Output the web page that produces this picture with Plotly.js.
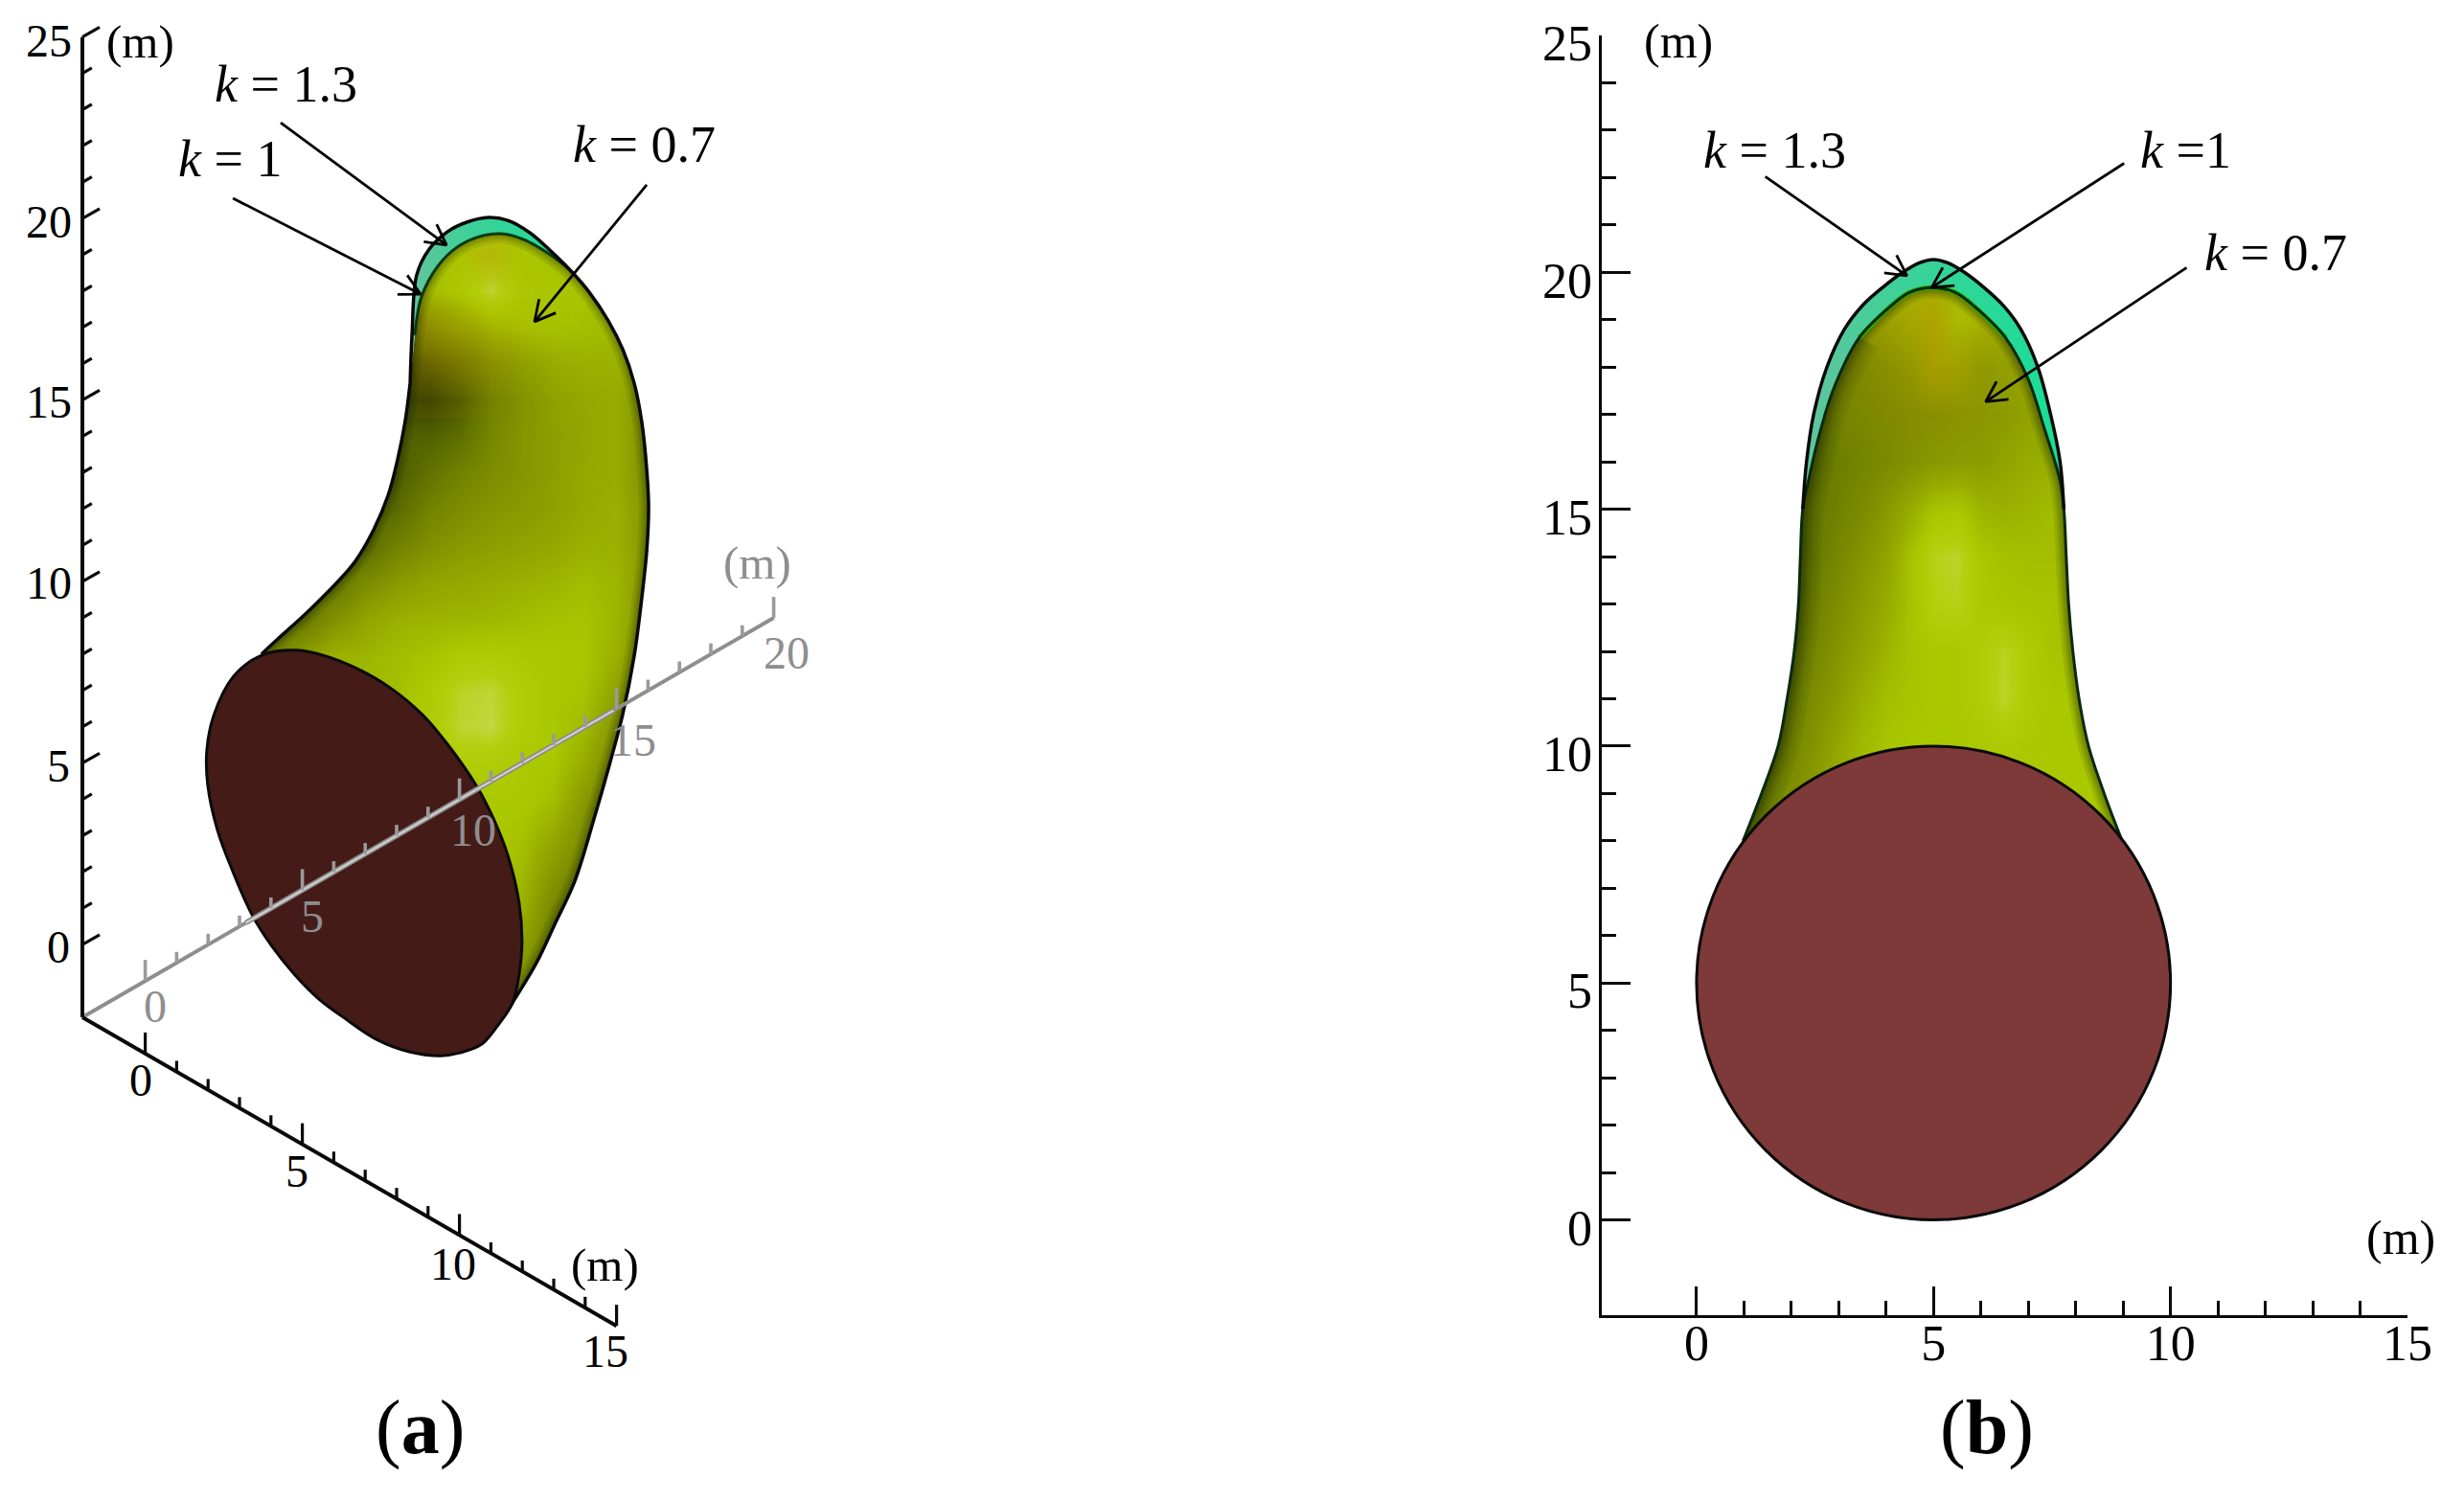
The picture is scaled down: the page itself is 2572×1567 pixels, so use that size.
<!DOCTYPE html>
<html>
<head>
<meta charset="utf-8">
<script src="https://cdn.plot.ly/plotly-3.0.1.min.js"></script>
<style>html,body{margin:0;padding:0;background:#fff}#chart{width:2572px;height:1567px}</style>
</head>
<body>
<div id="chart"></div>
<script>
// ---------- panel (b) : front view, metres ----------
const bLeftX  = [0.98,1.37,1.72,1.91,2.06,2.15,2.19,2.24];
const bLeftY  = [8,9,10,11,12,13,14,15];
const bInnerTopX = [2.36,2.56,2.89,3.43,4.10,4.50,4.98,5.45,5.85,6.52,7.00,7.33,7.67];
const bInnerTopY = [15.6,16.46,17.54,18.62,19.29,19.58,19.68,19.58,19.29,18.62,17.74,16.73,15.6];
const bRightX = [7.75,7.80,7.85,7.94,8.07,8.27,8.60,8.98];
const bRightY = [15,14,13,12,11,10,9,8];
const bOuterTopX = [2.24,2.32,2.47,2.75,3.12,3.50,3.95,4.35,4.70,5.00,5.30,5.65,6.04,6.47,6.84,7.20,7.47,7.67,7.75];
const bOuterTopY = [15,16,17,18,18.8,19.3,19.7,20,20.2,20.27,20.2,20,19.7,19.3,18.8,18,17,16,15];
const bShadeX = [1,1.5,2,2.5,3,3.5,4,4.5,5,5.5,6,6.5,7,7.5,8,8.5,9];
const bShadeY = [7,8,9,10,11,12,13,14,15,16,17,18,19,20];
const bShadeZ = [
[.55,.55,.6,.68,.76,.8,.82,.82,.82,.82,.82,.82,.82,.82,.82,.82,.82],
[.5,.5,.56,.66,.74,.8,.82,.82,.82,.82,.82,.82,.82,.82,.82,.82,.82],
[.45,.48,.54,.62,.72,.78,.82,.82,.82,.82,.82,.82,.82,.82,.82,.82,.82],
[.42,.46,.5,.58,.68,.76,.8,.82,.82,.82,.83,.84,.83,.82,.82,.82,.82],
[.42,.44,.47,.54,.62,.72,.78,.8,.82,.83,.86,.93,.85,.82,.82,.82,.82],
[.4,.42,.44,.5,.58,.66,.74,.8,.82,.83,.86,.92,.85,.8,.8,.8,.8],
[.38,.4,.4,.46,.54,.62,.7,.8,.89,.91,.83,.81,.8,.8,.8,.8,.8],
[.36,.36,.36,.42,.5,.58,.66,.8,.91,.93,.82,.79,.78,.78,.78,.78,.78],
[.36,.36,.36,.4,.46,.52,.6,.7,.8,.82,.74,.72,.74,.76,.76,.76,.76],
[.38,.38,.38,.4,.44,.48,.52,.56,.6,.62,.62,.66,.7,.72,.72,.72,.72],
[.42,.42,.42,.44,.48,.5,.52,.54,.56,.58,.6,.62,.66,.68,.68,.68,.68],
[.48,.48,.48,.48,.5,.52,.56,.62,.72,.7,.62,.64,.68,.68,.66,.64,.64],
[.55,.55,.55,.55,.58,.62,.68,.74,.78,.8,.78,.76,.74,.7,.66,.64,.64],
[.76,.76,.76,.76,.76,.76,.76,.76,.76,.76,.76,.76,.76,.76,.76,.76,.76]];
const bTintX = [3,3.5,4,4.5,5,5.5,6,6.5,7];
const bTintY = [16,17,18,19,20];
const bTintZ = [
[0,0,0,0,0,0,0,0,0],
[.1,.1,.2,.3,.3,.3,.2,.1,.1],
[.2,.2,.3,.4,.8,.6,.3,.2,.2],
[.3,.3,.4,.5,.9,.2,.4,.3,.3],
[.3,.3,.3,.3,.3,.3,.3,.3,.3]];

// ---------- panel (a) : oblique view, read in projected metres (U along axes, V along height) ----------
const aLeftU = [5.70,6.22,7.04,7.84,8.66,9.27,9.73,10.03,10.27,10.43];
const aLeftV = [8.00,8.42,9.06,9.74,10.53,11.43,12.38,13.36,14.41,15.47];
const aInnerTopU = [10.58,10.79,11.31,11.92,12.62,13.32,14.05,14.76,15.27,15.61];
const aInnerTopV = [16.79,17.84,18.69,19.21,19.50,19.58,19.42,19.08,18.76,18.50];
const aOuterTopU = [10.43,10.49,10.64,11.04,11.62,12.23,12.93,13.54,14.24,15.06,15.61];
const aOuterTopV = [15.47,16.79,18.45,19.16,19.64,19.90,20.03,19.95,19.61,18.98,18.50];
const aRightU = [16.13,16.74,17.20,17.56,17.80,17.96,18.02,17.96,17.80,17.56,17.20,16.80,16.28,15.67,15.06,14.45,13.78,13.45];
const aRightV = [17.97,17.18,16.39,15.47,14.41,13.09,12.04,10.85,9.53,7.95,6.36,5.04,3.46,1.75,0.61,-0.50,-1.47,-1.93];
const aEndU = [6.83,7.74,8.75,9.79,10.79,11.62,12.53,13.02,13.54,13.90,13.99,13.90,13.69,13.26,12.71,12.01,11.40,10.40,9.36,8.35,7.53,6.74,6.01,5.40,4.79,4.30,3.99,3.96,4.18,4.79,5.70,6.83];
const aEndV = [8.11,7.95,7.60,7.08,6.36,5.52,4.39,3.59,2.46,1.14,0.08,-0.81,-1.60,-2.18,-2.74,-2.98,-3.06,-2.95,-2.61,-2.03,-1.50,-0.81,-0.02,0.82,2.01,3.15,4.39,5.36,6.31,7.37,7.97,8.11];
const aShadeU = [5,6,7,8,9,10,11,12,13,14,15,16,17,18];
const aShadeV = [-2,1,4,5,6,7,8,9,10,11,12,13,14,15,16,17,18,19,20];
const aShadeZ = [
[.8,.8,.8,.8,.8,.8,.8,.78,.55,.45,.45,.45,.45,.45],
[.82,.82,.82,.82,.82,.82,.82,.82,.82,.72,.5,.4,.4,.4],
[.82,.82,.82,.82,.82,.82,.82,.83,.83,.83,.78,.6,.45,.4],
[.82,.82,.82,.82,.82,.82,.84,.87,.86,.83,.82,.7,.5,.4],
[.82,.82,.82,.82,.82,.82,.85,.93,.95,.86,.82,.76,.58,.45],
[.75,.75,.75,.75,.76,.78,.84,.92,.94,.86,.82,.8,.66,.5],
[.45,.45,.62,.72,.74,.77,.8,.84,.85,.83,.82,.81,.72,.55],
[.4,.4,.4,.55,.66,.72,.73,.74,.75,.77,.79,.8,.74,.58],
[.38,.38,.38,.38,.52,.6,.66,.68,.7,.72,.74,.77,.74,.6],
[.32,.32,.32,.32,.32,.46,.55,.6,.63,.65,.68,.72,.72,.6],
[.32,.32,.32,.32,.32,.32,.46,.53,.58,.61,.64,.69,.72,.58],
[.25,.25,.25,.25,.25,.25,.36,.46,.53,.58,.63,.68,.7,.56],
[.28,.28,.28,.28,.28,.28,.28,.34,.5,.58,.63,.67,.7,.56],
[.2,.2,.2,.2,.2,.16,.12,.24,.46,.57,.64,.68,.7,.56],
[.24,.24,.24,.24,.24,.24,.24,.38,.56,.64,.7,.72,.72,.7],
[.55,.55,.55,.55,.55,.5,.55,.68,.76,.8,.8,.78,.76,.72],
[.8,.8,.8,.8,.8,.76,.78,.84,.94,.84,.82,.8,.78,.74],
[.84,.84,.84,.84,.84,.8,.8,.82,.88,.82,.8,.78,.76,.74],
[.84,.84,.84,.84,.84,.84,.84,.84,.84,.84,.84,.84,.84,.84]];
const aTintU = [10,11,12,13,14,15];
const aTintV = [15,16,17,18,19,20];
const aTintZ = [
[.1,.2,.2,.1,0,0],
[.3,.5,.5,.3,.1,0],
[.3,.5,.4,.2,.15,.05],
[.1,.1,.05,.05,.1,.05],
[0,0,.1,.6,.05,0],
[0,0,0,0,0,0]];

// ---------- axes ticks and labels ----------
const majorTicks15 = [0,5,10,15];
const majorTicks20 = [0,5,10,15,20];
const majorTicks25 = [0,5,10,15,20,25];
const minorTicks15 = [1,2,3,4,6,7,8,9,11,12,13,14];
const minorTicks20 = [1,2,3,4,6,7,8,9,11,12,13,14,16,17,18,19];
const minorTicks25 = [1,2,3,4,6,7,8,9,11,12,13,14,16,17,18,19,21,22,23,24];
const unitLabel = '(m)';
const kLabels = ['<i>k</i> = 1.3','<i>k</i> = 1','<i>k</i> = 0.7','<i>k</i> =1'];
const panelLabels = ['(<b>a</b>)','(<b>b</b>)'];

// arrows: [tailU,tailV,headU,headV]
const aArrows = [[6.31,22.64,11.59,19.27],[4.79,20.56,10.76,17.92],[17.96,20.93,14.39,17.16]];
const bArrows = [[1.45,22.02,4.44,19.93],[9.02,22.3,4.96,19.68],[10.34,20.1,6.1,17.27]];

// ---------- helpers ----------
const W = 2572, H = 1567;
const FONT = '"Liberation Serif","Times New Roman",serif';
const INK = '#0a0a0a', GREY = '#8e8e8e';
const AX = {xaxis:'x2',yaxis:'y2'}, BX = {xaxis:'x',yaxis:'y'};
const traces = [];
const cat = (...a)=>[].concat(...a);
const rect = (x0,x1,y0,y1)=>{
  const ex=(x1-x0)*0.002, ey=(y1-y0)*0.002;
  return {
    x:[x0,x0+ex,x1-ex,x1,x1,x1,x1,x1-ex,x0+ex,x0,x0,x0,x0],
    y:[y0,y0,y0,y0,y0+ey,y1-ey,y1,y1,y1,y1,y1-ey,y0+ey,y0]};
};
function shade(x,y,z,ax){
  traces.push(Object.assign({type:'heatmap',x,y,z,zmin:0,zmax:1,zsmooth:'best',showscale:false,hoverinfo:'skip',
    colorscale:[[0,'#1a2200'],[.15,'#3a4600'],[.35,'#5f7000'],[.55,'#7f9000'],[.7,'#96ac00'],[.82,'#aac800'],[.9,'#b4d010'],[1,'#cfdf70']]},ax));
}
function tint(x,y,z,ax){
  traces.push(Object.assign({type:'heatmap',x,y,z,zmin:0,zmax:1,zsmooth:'best',showscale:false,hoverinfo:'skip',
    colorscale:[[0,'rgba(190,130,0,0)'],[1,'rgba(190,130,0,0.5)']]},ax));
}
function line(x,y,color,width,ax,extra){
  traces.push(Object.assign({type:'scatter',mode:'lines',x,y,hoverinfo:'skip',showlegend:false,
    line:Object.assign({color,width,simplify:false},extra||{})},ax));
}
function rim(x,y,ax,widths,alpha){
  widths.forEach(w=>line(x,y,'rgba(20,26,0,'+alpha+')',w,ax,{shape:'spline'}));
}
function maskAround(r,hx,hy,ax){
  traces.push(Object.assign({type:'scatter',mode:'none',x:cat(r.x,[null],hx),y:cat(r.y,[null],hy),
    fill:'toself',fillcolor:'#ffffff',line:{shape:'spline',width:0,simplify:false},hoverinfo:'skip',showlegend:false},ax));
}
function crescent(x,y,ax){
  traces.push(Object.assign({type:'scatter',mode:'none',x,y,fill:'toself',line:{shape:'spline',width:0,simplify:false},
    fillgradient:{type:'horizontal',colorscale:[[0,'#62c49c'],[0.35,'#3fd09a'],[1,'#18de96']]},
    hoverinfo:'skip',showlegend:false},ax));
}
function arrow(a,sx,sy,ax){
  const [tx,ty,hx,hy]=a;
  let dx=(tx-hx)*sx, dy=(ty-hy)*sy; const n=Math.hypot(dx,dy); dx/=n; dy/=n;
  const L=24, th=28*Math.PI/180;
  const bar=s=>[hx+L*(dx*Math.cos(s*th)-dy*Math.sin(s*th))/sx, hy+L*(dx*Math.sin(s*th)+dy*Math.cos(s*th))/sy];
  const b1=bar(1), b2=bar(-1);
  line([tx,hx,null,b1[0],hx,b2[0]],[ty,hy,null,b1[1],hy,b2[1]],'#000',2.8,ax);
}
// oblique axes projection: a = front axis, b = receding axis, z = height
const projU=(a,b)=>(a+2)+(b+2);
const projV=(a,b,z)=>z+0.5*(b-a);
function obliqueTicks(list,fn){ const xs=[],ys=[]; list.forEach(t=>{const p=fn(t); xs.push(p[0],p[2],null); ys.push(p[1],p[3],null);}); return [xs,ys]; }

// ---------- panel (b) marks ----------
const bHoleX=cat(bLeftX,bInnerTopX,bRightX), bHoleY=cat(bLeftY,bInnerTopY,bRightY);
shade(bShadeX,bShadeY,bShadeZ,BX);
tint(bTintX,bTintY,bTintZ,BX);
rim(bHoleX,bHoleY,BX,[4,8,12,16,22],0.1);
rim(cat(bLeftX,bInnerTopX.slice(0,4)),cat(bLeftY,bInnerTopY.slice(0,4)),BX,[28,36,44],0.06);
maskAround(rect(0,10,5.5,21.5),bHoleX,bHoleY,BX);
crescent(cat(bOuterTopX,bInnerTopX.slice().reverse()),cat(bOuterTopY,bInnerTopY.slice().reverse()),BX);
line(bInnerTopX.slice(3,10),bInnerTopY.slice(3,10),'#22b400',5,BX,{shape:'spline'});
line(bHoleX,bHoleY,'#0a2a10',3,BX,{shape:'spline'});
line(bOuterTopX,bOuterTopY,INK,3.5,BX,{shape:'spline'});
bArrows.forEach(a=>arrow(a,49.55,49.5,BX));

// ---------- panel (a) marks ----------
const aHoleU=cat(aLeftU,aInnerTopU,aRightU), aHoleV=cat(aLeftV,aInnerTopV,aRightV);
shade(aShadeU,aShadeV,aShadeZ,AX);
tint(aTintU,aTintV,aTintZ,AX);
rim(aHoleU,aHoleV,AX,[3,6,10,14,20],0.09);
maskAround(rect(3.5,19.5,-4.5,21.5),aHoleU,aHoleV,AX);
crescent(cat(aOuterTopU,aInnerTopU.slice().reverse()),cat(aOuterTopV,aInnerTopV.slice().reverse()),AX);
line(aInnerTopU,aInnerTopV,'#0a3a14',3,AX,{shape:'spline'});
line(cat(aOuterTopU,aRightU),cat(aOuterTopV,aRightV),INK,3.5,AX,{shape:'spline'});
line(aLeftU,aLeftV,INK,3.5,AX,{shape:'spline'});
traces.push(Object.assign({type:'scatter',mode:'lines',x:aEndU,y:aEndV,fill:'toself',fillcolor:'#451b17',
  line:{color:INK,width:3,shape:'spline',simplify:false},hoverinfo:'skip',showlegend:false},AX));

// oblique axes of panel (a)
line([projU(-2,-2),projU(-2,20)],[projV(-2,-2,-2),projV(-2,20,-2)],GREY,4,AX);
line([projU(-2,3.2),projU(-2,14.9)],[projV(-2,3.2,-2),projV(-2,14.9,-2)],'#8a8a8a',5.5,AX);
line([projU(-2,3.2),projU(-2,14.9)],[projV(-2,3.2,-2),projV(-2,14.9,-2)],'#cfcfcf',2.2,AX);
let t=obliqueTicks(majorTicks20,b=>[projU(-2,b),projV(-2,b,-2),projU(-2,b),projV(-2,b,-2)+0.58]); line(t[0],t[1],'#9a9a9a',3.6,AX);
t=obliqueTicks(minorTicks20,b=>[projU(-2,b),projV(-2,b,-2),projU(-2,b),projV(-2,b,-2)+0.3]); line(t[0],t[1],'#9a9a9a',3.6,AX);
line([projU(-2,-2),projU(15,-2)],[projV(-2,-2,-2),projV(15,-2,-2)],INK,4,AX);
t=obliqueTicks(majorTicks15,a=>[projU(a,-2),projV(a,-2,-2),projU(a,-2),projV(a,-2,-2)+0.58]); line(t[0],t[1],INK,3.2,AX);
t=obliqueTicks(minorTicks15,a=>[projU(a,-2),projV(a,-2,-2),projU(a,-2),projV(a,-2,-2)+0.3]); line(t[0],t[1],INK,3.2,AX);
line([projU(-2,-2),projU(-2,-2)],[-2,25],INK,4,AX);
t=obliqueTicks(majorTicks25,z=>[projU(-2,-2),projV(-2,-2,z),projU(-2,-1.45),projV(-2,-1.45,z)]); line(t[0],t[1],INK,3.2,AX);
t=obliqueTicks(minorTicks25,z=>[projU(-2,-2),projV(-2,-2,z),projU(-2,-1.7),projV(-2,-1.7,z)]); line(t[0],t[1],INK,3.2,AX);
aArrows.forEach(a=>arrow(a,32.8,37.9,AX));

// ---------- text ----------
const note=(text,px,py,size,color)=>({text,x:px/W,y:1-py/H,xref:'paper',yref:'paper',showarrow:false,
  xanchor:'center',yanchor:'middle',font:{family:FONT,size:size,color:color||'#000'}});
const TS=48, MS=49;
const annotations=[
  note(unitLabel,146,44,MS), note(unitLabel,631,1320,MS), note(unitLabel,790,587,MS,GREY),
  note(unitLabel,1752,43,50), note(unitLabel,2506,1292,50),
  note(kLabels[0],298,88,54), note(kLabels[1],240,166,54), note(kLabels[2],672,151,54),
  note(kLabels[0],1852,157,54), note(kLabels[3],2281,157,54), note(kLabels[2],2375,264,54),
  note(panelLabels[0],438,1490,80), note(panelLabels[1],2074,1490,80),
  note(String(majorTicks25[5]),51,43,TS), note(String(majorTicks25[4]),51,231,TS), note(String(majorTicks25[3]),51,420,TS),
  note(String(majorTicks25[2]),51,608,TS), note(String(majorTicks25[1]),61,800,TS), note(String(majorTicks25[0]),61,988,TS),
  note(String(majorTicks15[0]),147,1127,TS), note(String(majorTicks15[1]),310,1222,TS), note(String(majorTicks15[2]),473,1319,TS), note(String(majorTicks15[3]),632,1410,TS),
  note(String(majorTicks20[0]),162,1050,TS,GREY), note(String(majorTicks20[1]),326,956,TS,GREY), note(String(majorTicks20[2]),494,867,TS,GREY),
  note(String(majorTicks20[3]),661,773,TS,GREY), note(String(majorTicks20[4]),821,681,TS,GREY)
];

const axisCommon={showgrid:false,zeroline:false,showline:true,linecolor:INK,linewidth:3.5,ticks:'inside',ticklen:30,tickwidth:3,tickcolor:INK,
  tickmode:'array',fixedrange:true,tickfont:{family:FONT,size:52,color:'#000'}};
const layout={
  width:W,height:H,margin:{l:0,r:0,t:0,b:0},paper_bgcolor:'#fff',plot_bgcolor:'rgba(0,0,0,0)',showlegend:false,hovermode:false,
  xaxis:Object.assign({},axisCommon,{domain:[1672/W,2513/W],range:[-2,15],anchor:'y',tickvals:majorTicks15,ticklabelstandoff:-18,
    minor:{tickmode:'array',tickvals:minorTicks15,ticks:'inside',ticklen:15,tickwidth:3,tickcolor:INK,showgrid:false}}),
  yaxis:Object.assign({},axisCommon,{domain:[(H-1372.5)/H,(H-37)/H],range:[-2,25],anchor:'x',tickvals:majorTicks25,ticklabelstandoff:-4,ticklabelshift:8,
    minor:{tickmode:'array',tickvals:minorTicks25,ticks:'inside',ticklen:15,tickwidth:3,tickcolor:INK,showgrid:false}}),
  xaxis2:{domain:[0,900/W],range:[-86/32.8,(900-86)/32.8],anchor:'y2',visible:false,fixedrange:true},
  yaxis2:{domain:[0,1],range:[(1062-H)/37.9-2,1062/37.9-2],anchor:'x2',visible:false,fixedrange:true},
  shapes:[{type:'circle',xref:'x',yref:'y',x0:0,x1:10,y0:0,y1:10,fillcolor:'#7d3a38',line:{color:INK,width:3},layer:'above'}],
  annotations
};
Plotly.newPlot('chart',traces,layout,{displayModeBar:false,staticPlot:true});
</script>
</body>
</html>
